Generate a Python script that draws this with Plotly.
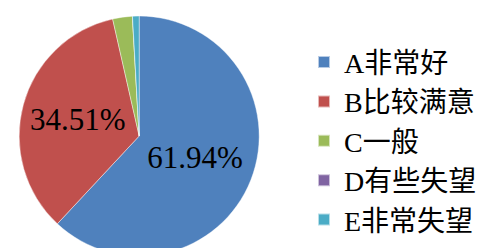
import plotly.graph_objects as go

labels = ["A非常好", "B比较满意", "C一般", "D有些失望", "E非常失望"]
values = [61.94, 34.51, 2.66, 0.0, 0.89]
shown = ["61.94%", "34.51%", "", "", ""]
colors = ["#4F81BD", "#C0504D", "#9BBB59", "#8064A2", "#4BACC6"]

fig = go.Figure(go.Pie(
    labels=labels, values=values, text=shown, textinfo="text",
    textposition="inside", insidetextorientation="horizontal",
    sort=False, direction="clockwise", rotation=0,
    marker=dict(colors=colors, line=dict(color="rgba(255,255,255,0.6)", width=0.7)),
    textfont=dict(family="Liberation Serif, Noto Sans CJK SC", size=31, color="black"),
    domain=dict(x=[0, 0.53], y=[0, 1]),
    hoverinfo="label+percent",
))
fig.update_layout(
    width=495, height=248,
    margin=dict(l=0, r=0, t=8, b=0),
    paper_bgcolor="white",
    showlegend=True,
    legend=dict(x=0.598, y=0.48, xanchor="left", yanchor="middle",
                font=dict(family="Liberation Serif, Noto Sans CJK SC", size=28, color="black"),
                itemsizing="constant"),
    uniformtext=dict(minsize=31, mode="show"),
)
fig.write_html("out.html")
